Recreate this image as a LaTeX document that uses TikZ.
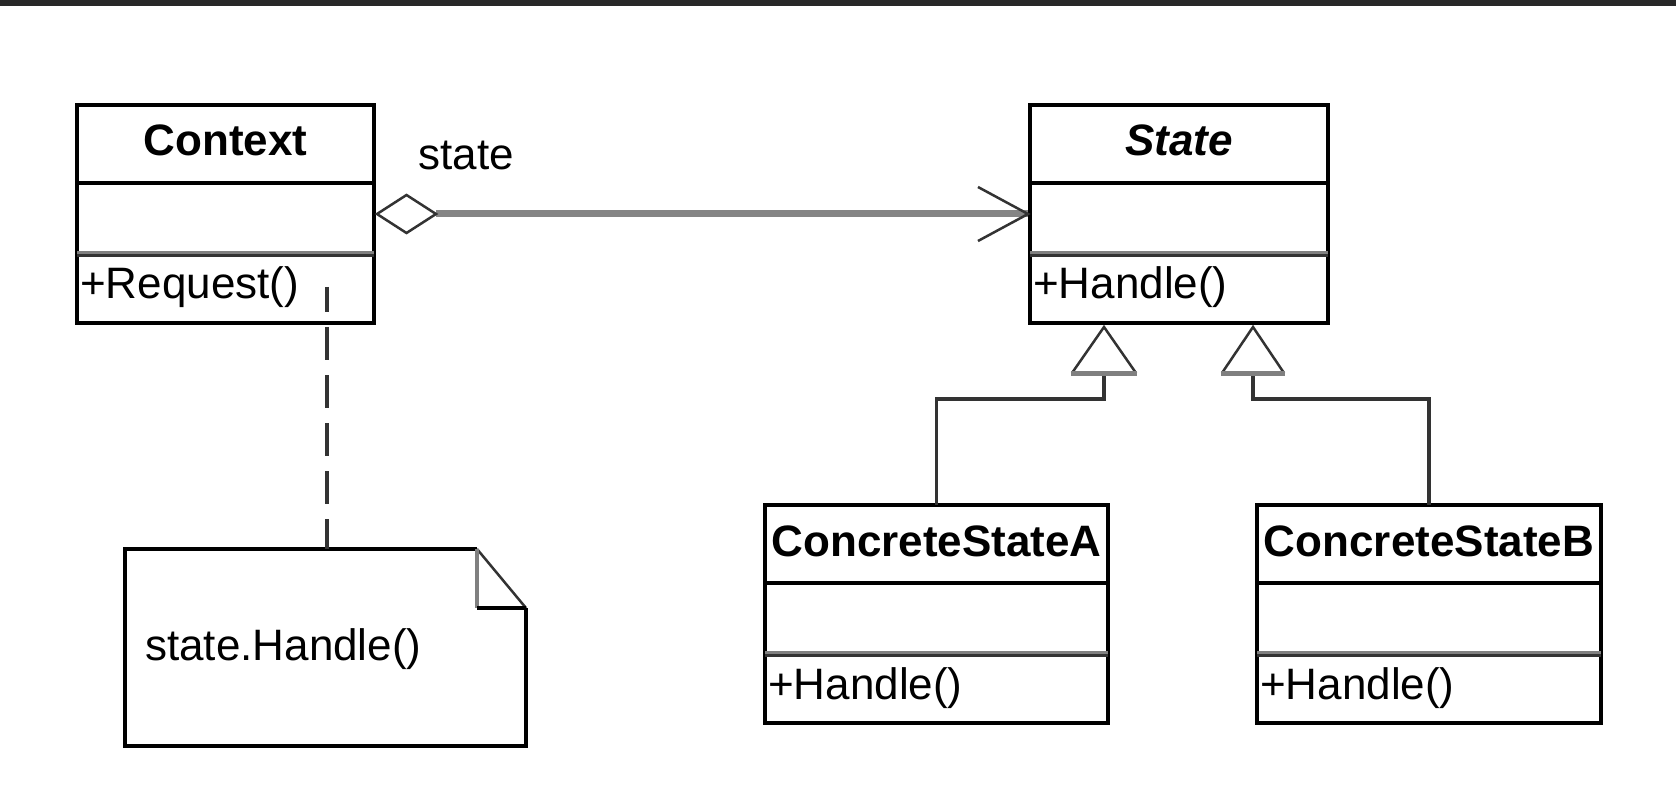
\documentclass[tikz,border=0pt]{standalone}
\usepackage{fontspec}
\setmainfont{Liberation Sans}
\usetikzlibrary{calc}
\definecolor{barc}{HTML}{282828}
\definecolor{assocgray}{HTML}{858585}
\definecolor{sepgray}{HTML}{808080}
\definecolor{darkline}{HTML}{333333}
\tikzset{
  classbox/.style={rectangle, draw=black, line width=4pt, fill=white, inner sep=0pt, outer sep=0pt},
  sepone/.style={draw=black, line width=3.5pt},
  septwoa/.style={draw=sepgray, line width=6.5pt},
  septwob/.style={draw=darkline, line width=3.5pt},
  titletext/.style={font=\fontsize{44}{52}\selectfont\bfseries, anchor=base, inner sep=0pt, text=black},
  optext/.style={font=\fontsize{44}{52}\selectfont, anchor=base west, inner sep=0pt, text=black},
  plaintext/.style={font=\fontsize{44}{52}\selectfont, anchor=base west, inner sep=0pt, text=black},
  noteframe/.style={draw=black, line width=4pt, line join=miter},
  thinline/.style={draw=darkline, line width=2.5pt},
  assocline/.style={draw=assocgray, line width=7pt},
  genline/.style={draw=darkline, line width=3.5pt},
  genbase/.style={draw=sepgray, line width=5pt},
  dashline/.style={draw=darkline, line width=4pt, dash pattern=on 33pt off 15pt, dash phase=8pt},
}
\newcommand{\umlclass}[6]{%
  \node[classbox, minimum width=#4pt, minimum height=218pt, anchor=north west] (#1) at (#2,#3) {};
  \draw[sepone] ([yshift=-78pt]#1.north west) -- ([yshift=-78pt]#1.north east);
  \draw[septwoa] ([yshift=-149pt]#1.north west) -- ([yshift=-149pt]#1.north east);
  \draw[septwob] ([yshift=-150.5pt]#1.north west) -- ([yshift=-150.5pt]#1.north east);
  \node[titletext] (#1-title) at ([yshift=-51pt]#1.north) {#5};
  \node[optext] (#1-op) at ([xshift=3pt,yshift=-194pt]#1.north west) {#6};
}
\begin{document}
\begin{tikzpicture}[x=1pt, y=-1pt]
  \useasboundingbox (0,0) rectangle (1676,794);
  \fill[white] (0,0) rectangle (1676,794);
  \fill[barc] (0,0) rectangle (1676,6.5);

  % classes
  \umlclass{ctx}{77}{105}{297}{Context}{+Request()}
  \umlclass{state}{1030}{105}{298}{\itshape State}{+Handle()}
  \umlclass{csa}{765}{505}{343}{ConcreteStateA}{+Handle()}
  \umlclass{csb}{1257}{505}{344}{ConcreteStateB}{+Handle()}

  % association (aggregation) Context -> State
  \node[plaintext] (lbl) at (418.5,170) {state};
  \coordinate (aggL) at ([xshift=3pt]ctx.east);
  \coordinate (aggR) at ([xshift=62pt]ctx.east);
  \coordinate (tip) at ([xshift=-2pt]state.west);
  \draw[assocline] (aggR) -- (tip);
  \draw[thinline, fill=white, line join=miter] (aggL) -- ([xshift=29.5pt,yshift=19pt]aggL) -- (aggR) -- ([xshift=29.5pt,yshift=-19pt]aggL) -- cycle;
  \draw[thinline, line join=miter] ([xshift=-50pt,yshift=27pt]tip) -- (tip) -- ([xshift=-50pt,yshift=-27pt]tip);

  % generalizations
  \coordinate (triA) at ([xshift=-75pt,yshift=-4pt]state.south);
  \coordinate (triB) at ([xshift=74pt,yshift=-4pt]state.south);
  \coordinate (triAb) at ([yshift=-46pt]triA);
  \coordinate (triBb) at ([yshift=-46pt]triB);
  \draw[genline] (triAb) -- ++(0,26) -| (csa.north);
  \draw[genline] (triBb) -- ++(0,26) -| (csb.north);
  \draw[thinline] ([xshift=-32pt]triAb) -- (triA) -- ([xshift=32pt]triAb);
  \draw[thinline] ([xshift=-31pt]triBb) -- (triB) -- ([xshift=31pt]triBb);
  \draw[genbase] ([xshift=-33pt]triAb) -- ([xshift=33pt]triAb);
  \draw[genbase] ([xshift=-32pt]triBb) -- ([xshift=32pt]triBb);

  % note
  \node[rectangle, draw=none, fill=white, minimum width=401pt, minimum height=197pt, inner sep=0pt, outer sep=0pt, anchor=north west] (note) at (125,549) {};
  \coordinate (foldA) at ([xshift=-49pt]note.north east);
  \coordinate (foldB) at ([yshift=-59pt]note.north east);
  \coordinate (foldC) at ([xshift=-49pt,yshift=-59pt]note.north east);
  \draw[noteframe] (foldA) -- (note.north west) -- (note.south west) -- (note.south east) -- (foldB);
  \draw[thinline] (foldA) -- (foldB);
  \draw[draw=sepgray, line width=4pt] (foldA) -- (foldC);
  \draw[draw=black, line width=3.5pt] (foldC) -- (foldB);
  \node[plaintext] (notetext) at ([xshift=20pt,yshift=-111pt]note.north west) {state.Handle()};

  % dashed anchor line
  \coordinate (dstart) at (327,287);
  \draw[dashline] (dstart) -- (dstart |- note.north);
\end{tikzpicture}
\end{document}
